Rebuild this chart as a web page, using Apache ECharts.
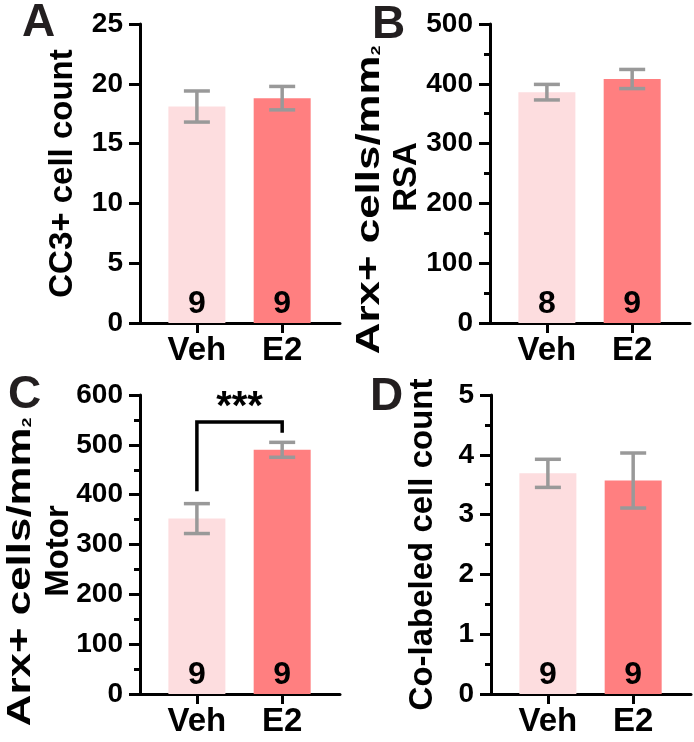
<!DOCTYPE html>
<html>
<head>
<meta charset="utf-8">
<script src="https://cdn.jsdelivr.net/npm/echarts@6/dist/echarts.min.js"></script>
<style>html,body{margin:0;padding:0;background:#fff;}#c{width:694px;height:742px;}</style>
</head>
<body>
<div id="c"></div>
<script>
// ---- data ----
const categories = ['Veh', 'E2'];
const meanA = [18.1, 18.8];
const semA  = [1.3, 0.98];
const nA    = [9, 9];
const meanB = [386, 408];
const semB  = [13, 16];
const nB    = [8, 9];
const meanC = [352, 490];
const semC  = [30, 15];
const nC    = [9, 9];
const meanD = [3.69, 3.57];
const semD  = [0.235, 0.46];
const nD    = [9, 9];
const yTicksA = [0, 25, 5];
const yTicksB = [0, 500, 100];
const yTicksC = [0, 600, 100];
const yTicksD = [0, 5, 1];
// significance bracket in panel C: [left leg bottom, top, right leg bottom], star label height
const bracketC = [407, 546, 524];
const starC = 574;
const starText = '***';
const panelLetters = ['A', 'B', 'C', 'D'];
const yNameA = 'CC3+ cell count';
const yNameB = ['Arx+ cells/mm', '2', 'RSA'];
const yNameC = ['Arx+ cells/mm', '2', 'Motor'];
const yNameD = 'Co-labeled cell count';

// ---- styling ----
const FONT = 'Liberation Sans, Arial, Helvetica, sans-serif';
const barColors = ['#FDDDDF', '#FF7F80'];
const errColor = '#999999';

const grids = [
  {left: 140, top: 24, width: 200, height: 299},
  {left: 490, top: 24, width: 200, height: 299},
  {left: 140, top: 395, width: 200, height: 299},
  {left: 491, top: 395, width: 200, height: 299}
];

function xAxisCfg(i) {
  return {
    gridIndex: i, type: 'value', min: -0.667, max: 1.678,
    axisLine: {show: true, onZero: false, lineStyle: {color: '#000', width: 3}},
    axisTick: {show: true, length: 10, lineStyle: {color: '#000', width: 3}, customValues: [0, 1]},
    axisLabel: {show: true, customValues: [0, 1], formatter: v => categories[Math.round(v)],
      color: '#000', fontFamily: FONT, fontWeight: 'bold', fontSize: 33, margin: 11},
    splitLine: {show: false}
  };
}
function yAxisCfg(i, ticks, minor, name, gap) {
  return {
    gridIndex: i, type: 'value', min: ticks[0], max: ticks[1], interval: ticks[2],
    axisLine: {show: true, onZero: false, lineStyle: {color: '#000', width: 3}},
    axisTick: {show: true, length: 11, lineStyle: {color: '#000', width: 3}},
    minorTick: {show: minor, splitNumber: 2, length: 6, lineStyle: {color: '#000', width: 3}},
    axisLabel: {color: '#000', fontFamily: FONT, fontWeight: 'bold', fontSize: 28, margin: 17},
    splitLine: {show: false}, minorSplitLine: {show: false},
    name: name, nameLocation: 'middle', nameGap: gap,
    nameTextStyle: {color: '#000', fontFamily: FONT, fontWeight: 'bold', fontSize: 33}
  };
}

function barSeries(i, mean, n) {
  return {
    type: 'bar', xAxisIndex: i, yAxisIndex: i, barWidth: 57, z: 2,
    data: mean.map((v, k) => ({value: [k, v], itemStyle: {color: barColors[k]}})),
    label: {show: true, position: 'insideBottom', distance: 3,
      formatter: p => String(n[p.dataIndex]),
      color: '#000', fontFamily: FONT, fontWeight: 'bold', fontSize: 32},
    animation: false
  };
}
function errSeries(i, mean, sem) {
  return {
    type: 'custom', xAxisIndex: i, yAxisIndex: i, z: 5, animation: false,
    data: mean.map((v, k) => [k, v - sem[k], v + sem[k]]),
    renderItem: (params, api) => {
      const lo = api.coord([api.value(0), api.value(1)]);
      const hi = api.coord([api.value(0), api.value(2)]);
      const w = 13;
      const st = {stroke: errColor, lineWidth: 3.5};
      return {type: 'group', children: [
        {type: 'line', shape: {x1: hi[0], y1: hi[1], x2: lo[0], y2: lo[1]}, style: st},
        {type: 'line', shape: {x1: hi[0] - w, y1: hi[1], x2: hi[0] + w, y2: hi[1]}, style: st},
        {type: 'line', shape: {x1: lo[0] - w, y1: lo[1], x2: lo[0] + w, y2: lo[1]}, style: st}
      ]};
    }
  };
}
const bracketSeries = {
  type: 'custom', xAxisIndex: 2, yAxisIndex: 2, z: 6, animation: false,
  data: [[0, 1, bracketC[0], bracketC[1], bracketC[2], starC]],
  renderItem: (params, api) => {
    const a = api.coord([api.value(0), api.value(2)]);
    const b = api.coord([api.value(0), api.value(3)]);
    const c = api.coord([api.value(1), api.value(3)]);
    const d = api.coord([api.value(1), api.value(4)]);
    const s = api.coord([(api.value(0) + api.value(1)) / 2, api.value(5)]);
    return {type: 'group', children: [
      {type: 'polyline', shape: {points: [a, b, c, d]}, style: {stroke: '#000', lineWidth: 3.5, fill: null}},
      {type: 'text', x: s[0], y: s[1], style: {text: starText, fill: '#000', font: 'bold 40px ' + FONT, align: 'center', verticalAlign: 'middle'}}
    ]};
  }
};

const letterPos = [[22, 23], [372, 25], [8, 395], [370, 397]];
const richArx = {
  a: {fill: '#000', fontFamily: FONT, fontWeight: 'bold', fontSize: 33, lineHeight: 37},
  s: {fill: '#000', fontFamily: FONT, fontWeight: 'bold', fontSize: 13, lineHeight: 37, verticalAlign: 'bottom', padding: [0, 0, 6, 0]}
};
function twoLineName(parts, x1, y1, x2, y2) {
  return [
    {type: 'text', x: x1, y: y1, rotation: Math.PI / 2, scaleX: 1.33,
      style: {text: '{a|' + parts[0] + '}{s|' + parts[1] + '}', rich: richArx, align: 'center', verticalAlign: 'middle'}},
    {type: 'text', x: x2, y: y2, rotation: Math.PI / 2,
      style: {text: parts[2], fill: '#000', font: 'bold 33px ' + FONT, align: 'center', verticalAlign: 'middle'}}
  ];
}

const option = {
  animation: false,
  backgroundColor: '#fff',
  grid: grids,
  xAxis: [0, 1, 2, 3].map(xAxisCfg),
  yAxis: [
    yAxisCfg(0, yTicksA, false, yNameA, 61),
    yAxisCfg(1, yTicksB, true, '', 70),
    yAxisCfg(2, yTicksC, true, '', 70),
    yAxisCfg(3, yTicksD, true, yNameD, 52)
  ],
  series: [
    barSeries(0, meanA, nA), errSeries(0, meanA, semA),
    barSeries(1, meanB, nB), errSeries(1, meanB, semB),
    barSeries(2, meanC, nC), errSeries(2, meanC, semC), bracketSeries,
    barSeries(3, meanD, nD), errSeries(3, meanD, semD)
  ],
  graphic: panelLetters.map((t, k) => ({
    type: 'text', x: letterPos[k][0], y: letterPos[k][1],
    style: {text: t, fill: '#231F20', font: 'bold 46px ' + FONT, align: 'left', verticalAlign: 'middle'}
  })).concat(twoLineName(yNameB, 370, 200, 407, 177))
     .concat(twoLineName(yNameC, 21, 572, 59, 551))
};
const chart = echarts.init(document.getElementById('c'), null, {renderer: 'canvas'});
chart.setOption(option);
</script>
</body>
</html>
